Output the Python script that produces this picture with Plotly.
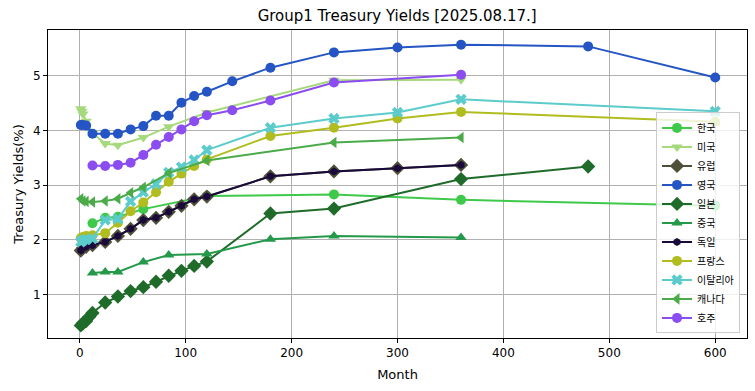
import plotly.graph_objects as go

# ---- data ----
names = ["한국", "미국", "유럽", "영국", "일본", "중국", "독일", "프랑스", "이탈리아", "캐나다", "호주"]

kr_m = [12, 24, 36, 60, 120, 240, 360, 600]
kr_v = [2.30, 2.40, 2.42, 2.56, 2.80, 2.83, 2.73, 2.62]

us_m = [1, 2, 3, 6, 12, 24, 36, 60, 84, 120, 240, 360]
us_v = [4.40, 4.35, 4.30, 4.17, 3.95, 3.76, 3.73, 3.87, 4.07, 4.33, 4.92, 4.93]

de_m = [1, 3, 6, 12, 24, 36, 48, 60, 72, 84, 96, 108, 120, 180, 240, 300, 360]
de_v = [1.80, 1.85, 1.87, 1.90, 1.96, 2.07, 2.20, 2.36, 2.40, 2.51, 2.62, 2.74, 2.79, 3.16, 3.25, 3.31, 3.37]

eu_m = de_m
eu_v = de_v

uk_m = [1, 3, 6, 12, 24, 36, 48, 60, 72, 84, 96, 108, 120, 144, 180, 240, 300, 360, 480, 600]
uk_v = [4.10, 4.10, 4.09, 3.94, 3.94, 3.94, 4.02, 4.08, 4.27, 4.27, 4.51, 4.63, 4.71, 4.90, 5.15, 5.43, 5.52, 5.57, 5.54, 4.97]

jp_m = [1, 3, 6, 9, 12, 24, 36, 48, 60, 72, 84, 96, 108, 120, 180, 240, 360, 480]
jp_v = [0.43, 0.47, 0.51, 0.59, 0.66, 0.85, 0.96, 1.06, 1.13, 1.23, 1.34, 1.43, 1.52, 1.60, 2.48, 2.57, 3.11, 3.34]

cn_m = [12, 24, 36, 60, 84, 120, 180, 240, 360]
cn_v = [1.39, 1.41, 1.41, 1.59, 1.72, 1.74, 2.01, 2.07, 2.04]

fr_m = [1, 3, 6, 12, 24, 36, 48, 60, 72, 84, 96, 108, 120, 180, 240, 300, 360, 600]
fr_v = [2.03, 2.05, 2.07, 2.08, 2.12, 2.31, 2.52, 2.68, 2.87, 3.06, 3.21, 3.35, 3.47, 3.90, 4.05, 4.22, 4.34, 4.16]

it_m = [1, 3, 6, 12, 24, 36, 48, 60, 72, 84, 96, 108, 120, 180, 240, 300, 360, 600]
it_v = [1.96, 1.99, 2.00, 2.02, 2.36, 2.38, 2.70, 2.87, 3.02, 3.23, 3.33, 3.46, 3.64, 4.05, 4.22, 4.33, 4.57, 4.35]

ca_m = [1, 3, 6, 12, 24, 36, 48, 60, 84, 120, 240, 360]
ca_v = [2.75, 2.71, 2.70, 2.69, 2.71, 2.75, 2.86, 2.96, 3.22, 3.45, 3.78, 3.87]

au_m = [12, 24, 36, 48, 60, 72, 84, 96, 108, 120, 144, 180, 240, 360]
au_v = [3.36, 3.35, 3.37, 3.41, 3.55, 3.74, 3.88, 4.02, 4.17, 4.28, 4.37, 4.55, 4.88, 5.02]

x_ticks = [0, 100, 200, 300, 400, 500, 600]
y_ticks = [1, 2, 3, 4, 5]

series = [
    (kr_m, kr_v, "#3fc94a", "circle", 10),
    (us_m, us_v, "#a6d97c", "triangle-down", 10),
    (eu_m, eu_v, "#4f5038", "diamond", 11),
    (uk_m, uk_v, "#2555c4", "circle", 10),
    (jp_m, jp_v, "#1f6b2a", "diamond", 11),
    (cn_m, cn_v, "#24994a", "triangle-up", 10),
    (de_m, de_v, "#1a0a3c", "hexagon", 8),
    (fr_m, fr_v, "#b1bc1f", "circle", 10),
    (it_m, it_v, "#5ccbcb", "x", 10),
    (ca_m, ca_v, "#4aab48", "triangle-left", 10),
    (au_m, au_v, "#8b4cf0", "circle", 10),
]

fig = go.Figure()
for name, (m, v, c, sym, sz) in zip(names, series):
    fig.add_trace(go.Scatter(
        x=m, y=v, name=name, mode="lines+markers",
        line=dict(color=c, width=2),
        marker=dict(symbol=sym, size=sz, color=c, line=dict(width=0)),
    ))

axis_common = dict(
    showline=True, linecolor="black", linewidth=1, mirror=True,
    showgrid=True, gridcolor="#b0b0b0", gridwidth=1,
    ticks="outside", ticklen=4, tickcolor="black",
    zeroline=False, tickfont=dict(size=12, color="black"), automargin=False,
)

fig.update_layout(
    width=755, height=391,
    margin=dict(l=48, r=8, t=30, b=53),
    paper_bgcolor="white", plot_bgcolor="white",
    font=dict(family="DejaVu Sans, Noto Sans CJK KR", color="black"),
    title=dict(text="Group1 Treasury Yields [2025.08.17.]", x=0.526, xanchor="center",
               y=1 - 16 / 391, yanchor="middle", font=dict(size=15)),
    xaxis=dict(range=[-30, 630], tickvals=x_ticks,
               title=dict(text="Month", font=dict(size=13), standoff=10), **axis_common),
    yaxis=dict(range=[0.20, 5.84], tickvals=y_ticks,
               title=dict(text="Treasury Yields(%)", font=dict(size=13), standoff=6), **axis_common),
    legend=dict(x=0.99, xanchor="right", y=0.015, yanchor="bottom",
                bgcolor="rgba(255,255,255,0.8)", bordercolor="#cccccc", borderwidth=1,
                font=dict(size=10, family="Noto Sans CJK KR, DejaVu Sans"),
                tracegroupgap=0, itemwidth=30),
    showlegend=True,
)

fig.write_html("out.html", config={"displayModeBar": False},
               post_script="document.body.style.margin='0';")
